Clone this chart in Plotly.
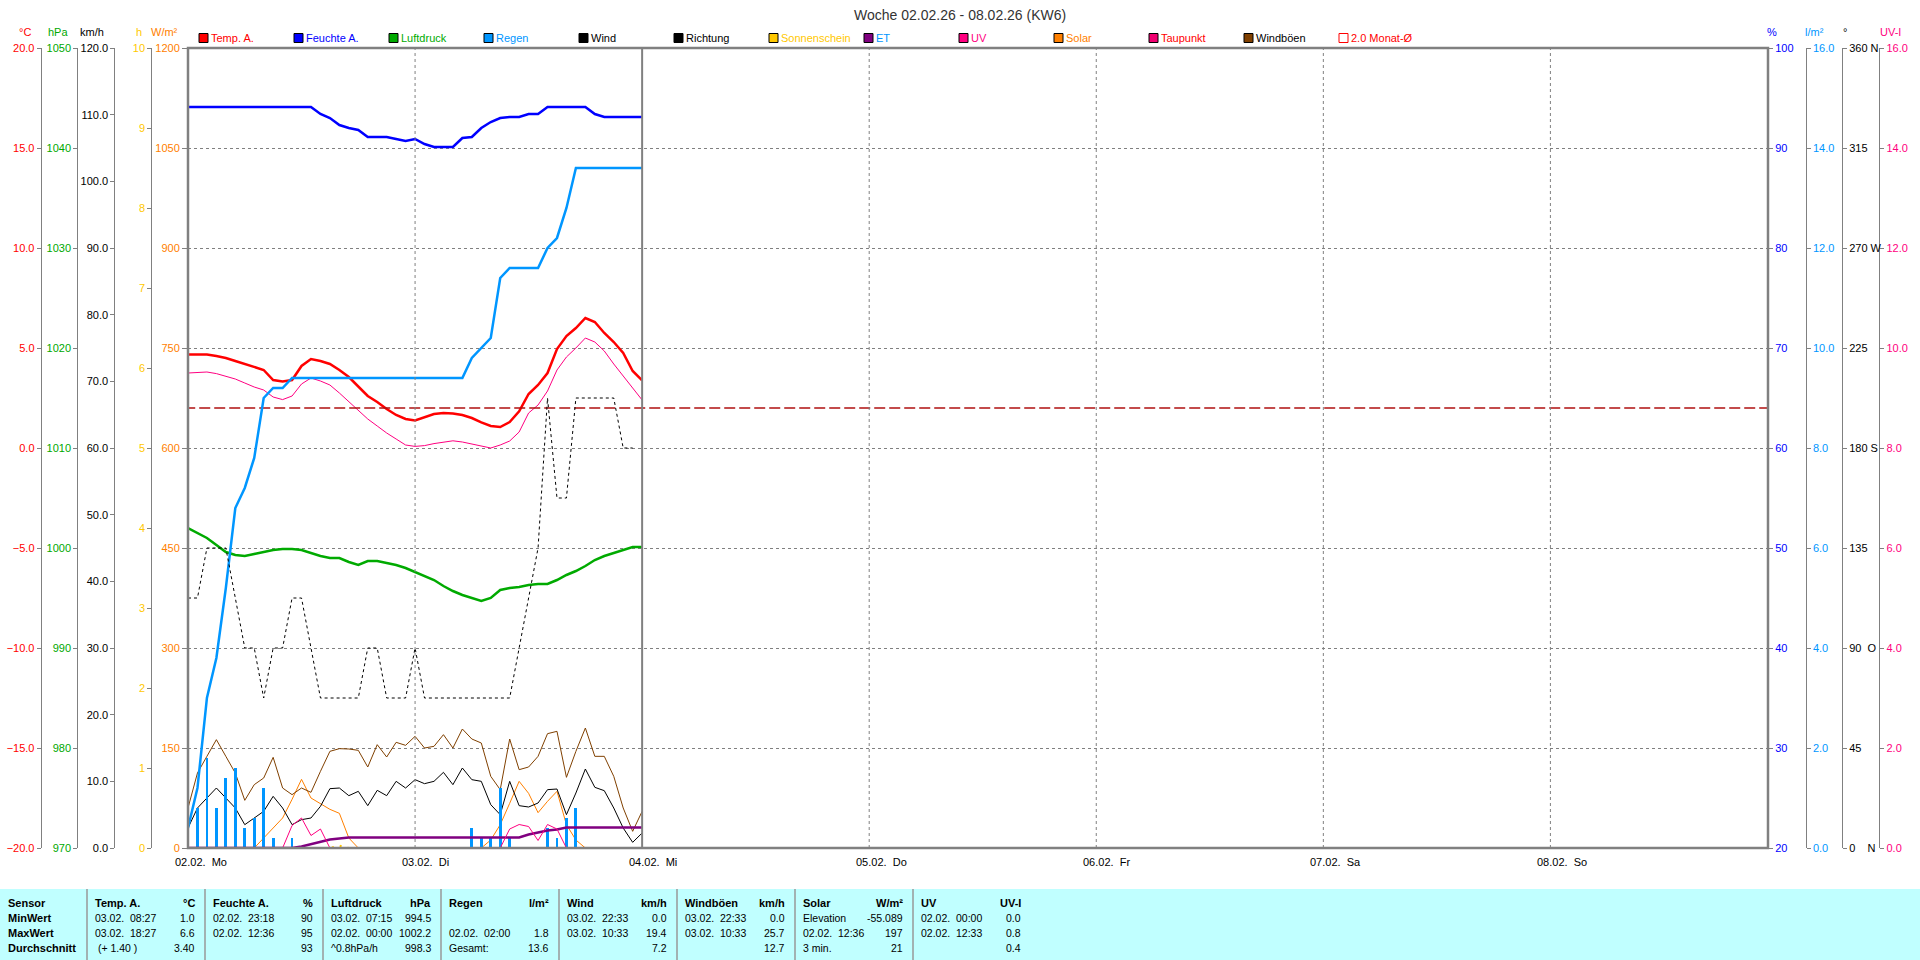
import plotly.graph_objects as go

W, H = 1920, 960
PL, PR, PT, PB = 188, 1768, 48, 848


def px(x):
    return x / W


def py(y):
    return 1 - y / H


FONT = "Liberation Sans"

# ---------------- data (hourly, hour 0 = 02.02. 00:00) ----------------
hours = list(range(49))
temp = [4.67, 4.67, 4.67, 4.6, 4.5, 4.35, 4.2, 4.05, 3.9, 3.4,
        3.33, 3.4, 4.1, 4.45, 4.35, 4.2, 3.9, 3.55, 3.05, 2.6,
        2.3, 1.95, 1.65, 1.45, 1.38, 1.55, 1.7, 1.75, 1.73, 1.65,
        1.5, 1.28, 1.1, 1.05, 1.3, 1.83, 2.7, 3.15, 3.75, 4.95,
        5.6, 6.0, 6.5, 6.3, 5.75, 5.3, 4.75, 3.85, 3.38]
dewpoint = [3.75, 3.78, 3.8, 3.72, 3.6, 3.45, 3.25, 3.05, 2.9, 2.55,
            2.42, 2.6, 3.2, 3.5, 3.35, 3.15, 2.75, 2.3, 1.9, 1.45,
            1.1, 0.75, 0.45, 0.15, 0.08, 0.12, 0.22, 0.3, 0.36, 0.3,
            0.2, 0.08, 0.0, 0.15, 0.35, 0.8, 1.75, 2.15, 2.85, 3.9,
            4.55, 5.0, 5.5, 5.3, 4.85, 4.2, 3.6, 3.0, 2.4]
humidity = [94.1, 94.1, 94.1, 94.1, 94.1, 94.1, 94.1, 94.1, 94.1, 94.1,
            94.1, 94.1, 94.1, 94.1, 93.4, 93.0, 92.3, 92.0, 91.8, 91.1,
            91.1, 91.1, 90.9, 90.7, 90.9, 90.4, 90.1, 90.1, 90.1, 91.0,
            91.1, 92.0, 92.6, 93.0, 93.1, 93.1, 93.4, 93.4, 94.1, 94.1,
            94.1, 94.1, 94.1, 93.4, 93.1, 93.1, 93.1, 93.1, 93.1]
pressure = [1002.0, 1001.5, 1001.0, 1000.3, 999.6, 999.3, 999.2, 999.4, 999.6, 999.8,
            999.9, 999.9, 999.8, 999.5, 999.2, 999.0, 999.0, 998.6, 998.3, 998.7,
            998.7, 998.5, 998.3, 998.0, 997.6, 997.2, 996.8, 996.2, 995.7, 995.3,
            995.0, 994.7, 995.0, 995.8, 996.0, 996.1, 996.3, 996.4, 996.4, 996.8,
            997.3, 997.7, 998.2, 998.8, 999.2, 999.5, 999.8, 1000.1, 1000.1]
rain_total = [0.4, 1.2, 3.0, 3.8, 5.2, 6.8, 7.2, 7.8, 9.0, 9.2,
              9.2, 9.4, 9.4, 9.4, 9.4, 9.4, 9.4, 9.4, 9.4, 9.4,
              9.4, 9.4, 9.4, 9.4, 9.4, 9.4, 9.4, 9.4, 9.4, 9.4,
              9.8, 10.0, 10.2, 11.4, 11.6, 11.6, 11.6, 11.6, 12.0, 12.2,
              12.8, 13.6, 13.6, 13.6, 13.6, 13.6, 13.6, 13.6, 13.6]
rain_hours = [0, 1, 2, 3, 4, 5, 6, 7, 8, 9, 11, 30, 31, 32, 33, 34, 38, 39, 40, 41]
rain_amount = [0.4, 0.8, 1.8, 0.8, 1.4, 1.6, 0.4, 0.6, 1.2, 0.2, 0.2,
               0.4, 0.2, 0.2, 1.2, 0.2, 0.4, 0.2, 0.6, 0.8]
wind = [3.0, 6.0, 7.5, 9.0, 7.5, 6.0, 3.5, 4.5, 5.5, 7.75,
        6.0, 3.5, 4.25, 4.5, 6.25, 8.9, 9.0, 7.85, 8.5, 6.35,
        8.65, 7.85, 10.0, 9.0, 10.25, 9.65, 10.0, 11.35, 9.5, 12.0,
        10.25, 10.0, 6.5, 5.0, 10.0, 6.35, 6.15, 6.75, 8.75, 8.85,
        5.0, 8.25, 11.85, 9.1, 8.6, 6.0, 3.0, 0.85, 2.25]
gusts = [6.0, 11.25, 13.75, 16.25, 13.75, 11.25, 7.15, 9.5, 10.5, 13.6,
         9.0, 8.0, 9.0, 8.35, 11.5, 14.5, 14.9, 14.85, 14.65, 12.15,
         15.5, 13.65, 15.85, 15.4, 16.75, 15.0, 15.25, 17.0, 15.0, 17.85,
         16.35, 15.75, 10.75, 8.75, 16.35, 11.75, 12.15, 13.75, 17.15, 17.5,
         10.6, 14.5, 18.0, 13.75, 13.75, 10.75, 6.0, 2.5, 5.5]
dir_hours = list(range(48))
direction = [112.5, 112.5, 135, 135, 135, 112.5, 90, 90, 67.5, 90,
             90, 112.5, 112.5, 90, 67.5, 67.5, 67.5, 67.5, 67.5, 90,
             90, 67.5, 67.5, 67.5, 90, 67.5, 67.5, 67.5, 67.5, 67.5,
             67.5, 67.5, 67.5, 67.5, 67.5, 90, 112.5, 135, 202.5, 157.5,
             157.5, 202.5, 202.5, 202.5, 202.5, 202.5, 180, 180]
solar = [0, 0, 0, 0, 0, 0, 0, 0, 15, 30,
         45, 73, 103, 75, 67, 58, 52, 15, 0, 0,
         0, 0, 0, 0, 0, 0, 0, 0, 0, 0,
         0, 0, 12, 35, 67, 100, 82, 53, 70, 85,
         35, 12, 0, 0, 0, 0, 0, 0, 0]
uv = [0, 0, 0, 0, 0, 0, 0, 0, 0, 0,
      0, 0.45, 0.6, 0.25, 0.38, 0, 0, 0, 0, 0,
      0, 0, 0, 0, 0, 0, 0, 0, 0, 0,
      0, 0, 0, 0, 0.38, 0.47, 0.43, 0.15, 0.47, 0.38,
      0, 0, 0, 0, 0, 0, 0, 0, 0]
et = [0, 0, 0, 0, 0, 0, 0, 0, 0, 0,
      0, 0, 0.03, 0.08, 0.12, 0.17, 0.19, 0.21, 0.21, 0.21,
      0.21, 0.21, 0.21, 0.21, 0.21, 0.21, 0.21, 0.21, 0.21, 0.21,
      0.21, 0.21, 0.21, 0.21, 0.21, 0.21, 0.27, 0.31, 0.35, 0.37,
      0.41, 0.41, 0.41, 0.41, 0.41, 0.41, 0.41, 0.41, 0.41]
sunshine = [0, 0, 0, 0, 0, 0, 0, 0, 0, 0,
            0, 0, 0, 0, 0, 0, 0.03, 0, 0, 0,
            0, 0, 0, 0, 0, 0, 0, 0, 0, 0,
            0, 0, 0, 0, 0, 0, 0, 0, 0, 0,
            0, 0, 0, 0, 0, 0, 0, 0, 0]
month_avg = 2.0
month_x = [-0.4, 167]

day_labels = ["02.02.\u00a0\u00a0Mo", "03.02.\u00a0\u00a0Di", "04.02.\u00a0\u00a0Mi",
              "05.02.\u00a0\u00a0Do", "06.02.\u00a0\u00a0Fr", "07.02.\u00a0\u00a0Sa",
              "08.02.\u00a0\u00a0So"]
day_hours = [0, 24, 48, 72, 96, 120, 144]

dir_ticks = [0, 45, 90, 135, 180, 225, 270, 315, 360]
dir_text = ["0\u00a0\u00a0\u00a0\u00a0N", "45", "90\u00a0\u00a0O", "135", "180\u00a0S",
            "225", "270\u00a0W", "315", "360\u00a0N"]

legend_labels = ["Temp. A.", "Feuchte A.", "Luftdruck", "Regen", "Wind", "Richtung",
                 "Sonnenschein", "ET", "UV", "Solar", "Taupunkt", "Windböen", "2.0 Monat-Ø"]
legend_box = ["#FF0000", "#0000FF", "#00AA00", "#0096FF", "#000000", "#000000",
              "#FFC800", "#800080", "#FF0080", "#FF8000", "#F00070", "#804000", "#FFFFFF"]
legend_text = ["#FF0000", "#0000FF", "#00AA00", "#0096FF", "#000000", "#000000",
               "#FFC800", "#0096FF", "#FF0080", "#FF8000", "#FF0000", "#000000", "#FF0000"]

table_heads = ["Temp. A.", "Feuchte A.", "Luftdruck", "Regen", "Wind", "Windböen", "Solar", "UV"]
table_units = ["°C", "%", "hPa", "l/m²", "km/h", "km/h", "W/m²", "UV-I"]
row_names = ["Sensor", "MinWert", "MaxWert", "Durchschnitt"]
nb = "\u00a0\u00a0"
min_when = ["03.02." + nb + "08:27", "02.02." + nb + "23:18", "03.02." + nb + "07:15", "",
            "03.02." + nb + "22:33", "03.02." + nb + "22:33", "Elevation", "02.02." + nb + "00:00"]
min_vals = ["1.0", "90", "994.5", "", "0.0", "0.0", "-55.089", "0.0"]
max_when = ["03.02." + nb + "18:27", "02.02." + nb + "12:36", "02.02." + nb + "00:00",
            "02.02." + nb + "02:00", "03.02." + nb + "10:33", "03.02." + nb + "10:33",
            "02.02." + nb + "12:36", "02.02." + nb + "12:33"]
max_vals = ["6.6", "95", "1002.2", "1.8", "19.4", "25.7", "197", "0.8"]
avg_when = ["\u00a0(+ 1.40 )", "", "^0.8hPa/h", "Gesamt:", "", "", "3 min.", ""]
avg_vals = ["3.40", "93", "998.3", "13.6", "7.2", "12.7", "21", "0.4"]

# ---------------- figure ----------------
fig = go.Figure()

fig.add_trace(go.Scatter(x=hours, y=sunshine, yaxis="y5", mode="lines",
                         line=dict(color="#FFC800", width=2, dash="2px,6px")))
fig.add_trace(go.Scatter(x=hours, y=solar, yaxis="y", mode="lines",
                         line=dict(color="#FF8000", width=1)))
fig.add_trace(go.Scatter(x=hours, y=uv, yaxis="y9", mode="lines",
                         line=dict(color="#FF0080", width=1)))
fig.add_trace(go.Scatter(x=hours, y=et, yaxis="y7", mode="lines",
                         line=dict(color="#800080", width=2.5)))
fig.add_trace(go.Bar(x=rain_hours, y=rain_amount, yaxis="y7", width=0.3,
                     marker=dict(color="#0096FF", line=dict(width=0))))
fig.add_trace(go.Scatter(x=hours, y=gusts, yaxis="y4", mode="lines",
                         line=dict(color="#804000", width=1)))
fig.add_trace(go.Scatter(x=hours, y=wind, yaxis="y4", mode="lines",
                         line=dict(color="#000000", width=1)))
fig.add_trace(go.Scatter(x=dir_hours, y=direction, yaxis="y8", mode="lines",
                         line=dict(color="#000000", width=1, dash="3px,3px")))
fig.add_trace(go.Scatter(x=hours, y=pressure, yaxis="y3", mode="lines",
                         line=dict(color="#00AA00", width=2.5)))
fig.add_trace(go.Scatter(x=hours, y=rain_total, yaxis="y7", mode="lines",
                         line=dict(color="#0096FF", width=2.5)))
fig.add_trace(go.Scatter(x=hours, y=dewpoint, yaxis="y2", mode="lines",
                         line=dict(color="#FF0080", width=1)))
fig.add_trace(go.Scatter(x=hours, y=temp, yaxis="y2", mode="lines",
                         line=dict(color="#FF0000", width=2.5)))
fig.add_trace(go.Scatter(x=hours, y=humidity, yaxis="y6", mode="lines",
                         line=dict(color="#0000FF", width=2.5)))
fig.add_trace(go.Scatter(x=month_x, y=[month_avg, month_avg], yaxis="y2", mode="lines",
                         line=dict(color="#B01010", width=1.3, dash="11px,4px")))

ydom = [py(PB), py(PT)]
tickf = dict(family=FONT, size=11)


def yax(color, rng, dtick, fmt, pos=None, side="left", anchor="free", **kw):
    d = dict(domain=ydom, range=rng, dtick=dtick, tickformat=fmt, side=side,
             showgrid=False, zeroline=False, showline=True, linecolor="#808080",
             linewidth=1, ticks="outside", ticklen=4, tickcolor="#808080",
             tickfont=dict(tickf, color=color), automargin=False, fixedrange=True)
    if anchor == "free":
        d.update(anchor="free", position=pos, overlaying="y")
    else:
        d.update(anchor=anchor)
    d.update(kw)
    return d


fig.update_layout(
    width=W, height=H,
    margin=dict(l=0, r=0, t=0, b=0, pad=0),
    paper_bgcolor="white", plot_bgcolor="white",
    showlegend=False, bargap=0,
    font=dict(family=FONT, size=11, color="black"),
    xaxis=dict(domain=[px(PL), px(PR)], range=[0, 167], showgrid=False, zeroline=False,
               showticklabels=False, showline=False, ticks="", fixedrange=True),
    yaxis=dict(domain=ydom, range=[0, 1200], dtick=150, tickformat="d", side="left",
               anchor="x", showgrid=True, gridcolor="#808080", gridwidth=1,
               griddash="3px,3px", zeroline=False, showline=False, ticks="outside",
               ticklen=5, tickcolor="#808080",
               tickfont=dict(tickf, color="#FF8000"), automargin=False, fixedrange=True),
    yaxis2=yax("#FF0000", [-20, 20], 5, ".1f", pos=px(40.7)),
    yaxis3=yax("#00A800", [970, 1050], 10, "d", pos=px(77.3)),
    yaxis4=yax("#000000", [0, 120], 10, ".1f", pos=px(114.3)),
    yaxis5=yax("#FFC800", [0, 10], 1, "d", pos=px(151.3)),
    yaxis6=yax("#0000FF", [20, 100], 10, "d", side="right", anchor="x",
               overlaying="y", showline=False),
    yaxis7=yax("#0096FF", [0, 16], 2, ".1f", pos=px(1805.7), side="right"),
    yaxis8=yax("#000000", [0, 360], None, None, pos=px(1842), side="right",
               tickmode="array", tickvals=dir_ticks, ticktext=dir_text),
    yaxis9=yax("#FF0080", [0, 16], 2, ".1f", pos=px(1879.3), side="right"),
)

shapes = []
# vertical day lines
for h in [24, 72, 96, 120, 144]:
    shapes.append(dict(type="line", xref="x", yref="paper", x0=h, x1=h,
                       y0=py(PB), y1=py(PT),
                       line=dict(color="#808080", width=1, dash="3px,3px")))
shapes.append(dict(type="line", xref="x", yref="paper", x0=48, x1=48,
                   y0=py(PB), y1=py(PT), line=dict(color="#808080", width=2)))
# plot frame
shapes.append(dict(type="rect", xref="paper", yref="paper", x0=px(PL), x1=px(PR),
                   y0=py(PB), y1=py(PT), line=dict(color="#808080", width=2.5)))

annotations = []
# title
annotations.append(dict(x=0.5, y=py(15), xref="paper", yref="paper", showarrow=False,
                        text="Woche 02.02.26 - 08.02.26 (KW6)",
                        font=dict(family=FONT, size=14, color="#333333"),
                        xanchor="center", yanchor="middle"))
# axis titles
axis_titles = [("°C", 25, "#FF0000"), ("hPa", 58, "#00A800"), ("km/h", 92, "#000000"),
               ("h", 138.5, "#FFC800"), ("W/m²", 164, "#FF8000"), ("%", 1772, "#0000FF"),
               ("l/m²", 1814, "#0096FF"), ("°", 1845, "#000000"), ("UV-I", 1890, "#FF0080")]
for t, x, c in axis_titles:
    annotations.append(dict(x=px(x), y=py(32), xref="paper", yref="paper", showarrow=False,
                            text=t, font=dict(family=FONT, size=11, color=c),
                            xanchor="center", yanchor="middle"))
# legend
for i, (lab, bc, tc) in enumerate(zip(legend_labels, legend_box, legend_text)):
    x0 = 199 + 95 * i
    line_col = "#FF0000" if bc == "#FFFFFF" else "#000000"
    shapes.append(dict(type="rect", xref="paper", yref="paper", x0=px(x0), x1=px(x0 + 9),
                       y0=py(42.5), y1=py(33.5), fillcolor=bc,
                       line=dict(color=line_col, width=1)))
    annotations.append(dict(x=px(x0 + 10), y=py(38), xref="paper", yref="paper",
                            showarrow=False, text=lab, xanchor="left", yanchor="middle",
                            font=dict(family=FONT, size=11, color=tc)))
# day labels
for h, lab in zip(day_hours, day_labels):
    annotations.append(dict(x=h, y=py(862), xref="x", yref="paper", showarrow=False,
                            text=lab, xanchor="left", yanchor="middle", xshift=-15,
                            font=dict(family=FONT, size=11, color="black")))

# ---------------- table ----------------
shapes.append(dict(type="rect", xref="paper", yref="paper", x0=0, x1=1, y0=0, y1=py(889),
                   fillcolor="#C0FFFF", line=dict(width=0), layer="below"))
seps = [87, 205, 323, 441, 559, 677, 795, 913]
for s in seps:
    shapes.append(dict(type="line", xref="paper", yref="paper", x0=px(s), x1=px(s),
                       y0=0, y1=py(889), line=dict(color="#999999", width=1.5)))
row_y = [903, 918, 933, 948]


def txt(x, y, t, anchor="left", bold=False, size=10.5):
    annotations.append(dict(x=px(x), y=py(y), xref="paper", yref="paper", showarrow=False,
                            text=("<b>%s</b>" % t) if bold else t, xanchor=anchor,
                            yanchor="middle", font=dict(family=FONT, size=size, color="black")))


for r, name in enumerate(row_names):
    txt(6, row_y[r], name, bold=True, size=11)
for k in range(8):
    left = seps[k] + 6
    right = seps[k] + 118 - 8
    txt(left, row_y[0], table_heads[k], bold=True, size=11)
    txt(right, row_y[0], table_units[k], anchor="right", bold=True, size=11)
    for r, (w, v) in enumerate([(min_when[k], min_vals[k]), (max_when[k], max_vals[k]),
                                (avg_when[k], avg_vals[k])]):
        if w:
            txt(left, row_y[r + 1], w)
        if v:
            txt(right, row_y[r + 1], v, anchor="right")

fig.update_layout(shapes=shapes, annotations=annotations)

fig.write_html("out.html", include_plotlyjs=True, full_html=True,
               config={"displayModeBar": False},
               post_script="document.body.style.margin='0';document.body.style.overflow='hidden';")
